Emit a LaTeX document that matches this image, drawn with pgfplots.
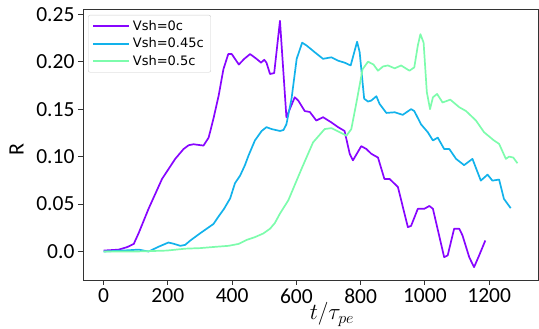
\RequirePackage{fix-cm}
\documentclass[border=0pt]{standalone}
\usepackage{fontspec}
\setmainfont{DejaVu Sans}
\newfontfamily\carlito{Carlito}
\newcommand{\lf}{\fontsize{13}{15}\selectfont}
\usepackage{pgfplots}
\pgfplotsset{compat=1.18}
\definecolor{cpurple}{RGB}{135,5,255}
\definecolor{cblue}{RGB}{18,178,235}
\definecolor{cgreen}{RGB}{125,252,172}
\begin{document}
\begin{tikzpicture}
\useasboundingbox (0,0) rectangle (539pt,329pt);
\begin{axis}[
  at={(83pt,49pt)}, anchor=south west,
  scale only axis, width=455pt, height=271pt,
  xmin=-64, xmax=1352, ymin=-0.030, ymax=0.2555,
  xtick={0,200,400,600,800,1000,1200},
  xticklabels={0,200,400,600,800,1000,1200},
  ytick={0,0.05,0.1,0.15,0.2,0.25},
  yticklabels={0.0,0.05,0.10,0.15,0.20,0.25},
  tick align=outside, tick pos=left, major tick length=5pt,
  axis line style={line width=0.9pt, black!80},
  tick style={line width=0.9pt, black!80},
  ticklabel style={font=\carlito\fontsize{21.5}{24}\selectfont},
  xlabel={$t/\tau_{pe}$},
  xlabel style={font=\fontsize{23}{27}\selectfont, at={(axis description cs:0.547,0)}, anchor=base, yshift=-40pt},
  ylabel={R},
  ylabel style={font=\carlito\fontsize{22}{26}\selectfont, at={(axis description cs:-0.146,0.483)}, anchor=center},
  legend style={at={(axis description cs:0.011,0.978)}, anchor=north west, draw=black!20, rounded corners=2pt,
    inner xsep=4pt, inner ysep=2.5pt, nodes={inner sep=3pt}},
  legend cell align=left,
  legend image code/.code={\draw[#1, line width=1.7pt] (0pt,0pt) -- (36pt,0pt);},
  every axis plot/.append style={line width=1.7pt, line join=round},
]
\addplot[cpurple] coordinates {
(0,0.001) (47,0.002) (73,0.0046) (94,0.008) (110,0.020) (140,0.045) (182,0.0765)
(223,0.0976) (249,0.108) (265,0.112) (280,0.113) (311,0.1116) (327,0.120) (342,0.140)
(358,0.164) (373,0.192) (388,0.208) (399,0.208) (421,0.197) (438,0.203) (456,0.208)
(476,0.203) (490,0.199) (500,0.202) (507,0.199) (518,0.187) (531,0.188) (549,0.243)
(569,0.1415) (595,0.1625) (606,0.159) (626,0.148) (642,0.147) (662,0.138) (683,0.1415)
(709,0.136) (730,0.131) (750,0.127) (766,0.103) (776,0.096) (802,0.111) (818,0.108)
(833,0.103) (854,0.099) (874,0.0765) (890,0.0765) (916,0.068) (947,0.0257) (957,0.027)
(978,0.045) (998,0.045) (1014,0.048) (1025,0.045) (1060,-0.006) (1071,-0.004)
(1091,0.024) (1107,0.024) (1117,0.017) (1138,-0.006) (1153,-0.0165) (1169,-0.004)
(1188,0.0116)
};
\addlegendentry{\lf Vsh=0c}
\addplot[cblue] coordinates {
(0,0) (60,0.001) (110,0.002) (140,0.000) (171,0.005) (202,0.0095) (220,0.008)
(239,0.006) (254,0.007) (270,0.0116) (301,0.0193) (342,0.029) (358,0.037) (375,0.045)
(394,0.056) (409,0.072) (425,0.080) (440,0.091) (451,0.101) (471,0.117) (492,0.127)
(507,0.131) (523,0.129) (549,0.127) (560,0.128) (569,0.134) (585,0.161) (601,0.203)
(618,0.220) (632,0.217) (657,0.210) (683,0.203) (709,0.2046) (730,0.201) (750,0.199)
(769,0.196) (789,0.221) (797,0.210) (811,0.161) (823,0.158) (833,0.159) (849,0.1636)
(859,0.1555) (880,0.146) (906,0.1467) (931,0.144) (957,0.150) (967,0.148) (988,0.134)
(1009,0.1257) (1025,0.117) (1040,0.120) (1060,0.108) (1076,0.108) (1097,0.0976)
(1122,0.091) (1148,0.0976) (1174,0.0747) (1195,0.081) (1210,0.0747) (1231,0.0758)
(1246,0.0555) (1267,0.0457)
};
\addlegendentry{\lf Vsh=0.45c}
\addplot[cgreen] coordinates {
(0,0) (100,0.0) (197,0.001) (254,0.003) (301,0.0036) (350,0.005) (389,0.006)
(420,0.008) (446,0.0123) (470,0.015) (497,0.019) (518,0.024) (533,0.030) (549,0.040)
(575,0.054) (616,0.087) (652,0.115) (688,0.129) (709,0.130) (735,0.1257) (756,0.122)
(771,0.129) (787,0.157) (806,0.192) (823,0.200) (840,0.197) (854,0.1905) (870,0.195)
(885,0.196) (906,0.193) (926,0.196) (952,0.1905) (967,0.194) (978,0.217) (986,0.229)
(996,0.220) (1006,0.168) (1016,0.150) (1025,0.1625) (1038,0.166) (1055,0.157)
(1079,0.160) (1107,0.152) (1128,0.148) (1159,0.138) (1184,0.1257) (1215,0.117)
(1231,0.1134) (1252,0.0976) (1262,0.100) (1275,0.099) (1288,0.093)
};
\addlegendentry{\lf Vsh=0.5c}
\end{axis}
\end{tikzpicture}
\end{document}
